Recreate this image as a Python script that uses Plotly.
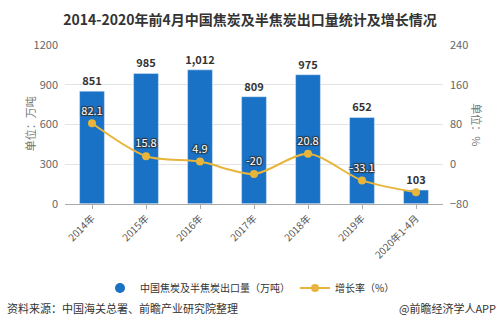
import plotly.graph_objects as go

categories = ["2014年", "2015年", "2016年", "2017年", "2018年", "2019年", "2020年1-4月"]
export_volume = [851, 985, 1012, 809, 975, 652, 103]
growth_rate = [82.1, 15.8, 4.9, -20, 20.8, -33.1, -57]
growth_labels = ["82.1", "15.8", "4.9", "-20", "20.8", "-33.1", ""]

title_text = "2014-2020年前4月中国焦炭及半焦炭出口量统计及增长情况"
bar_name = "中国焦炭及半焦炭出口量（万吨）"
line_name = "增长率（%）"
left_title = "单位：万吨"
right_title = "单位：%"
source_text = "资料来源：中国海关总署、前瞻产业研究院整理"
credit_text = "@前瞻经济学人APP"

FONT = "Noto Sans CJK SC"
BAR_COLOR = "#1a72c6"
LINE_COLOR = "#e8b53a"

fig = go.Figure()
fig.add_trace(go.Bar(
    x=categories, y=export_volume, name=bar_name, showlegend=False,
    marker=dict(color=BAR_COLOR), width=0.46,
    texttemplate="%{y:,}", textposition="outside", cliponaxis=False,
    constraintext="none",
    textfont=dict(family=FONT, size=11, color="#333333", weight="bold"),
    hoverinfo="skip",
))
fig.add_trace(go.Scatter(
    x=[None], y=[None], mode="markers", name=bar_name,
    marker=dict(symbol="circle", size=10, color=BAR_COLOR),
))
fig.add_trace(go.Scatter(
    x=categories, y=growth_rate, name=line_name, yaxis="y2",
    mode="lines+markers+text", text=growth_labels, textposition="top center",
    line=dict(color=LINE_COLOR, width=2, shape="spline", smoothing=0.8),
    marker=dict(size=8, color=LINE_COLOR),
    textfont=dict(family=FONT, size=11, color="#ffffff",
                  shadow="1px 1px 1px #333, -1px -1px 1px #333, 1px -1px 1px #333, -1px 1px 1px #333"),
    cliponaxis=False,
))

fig.update_layout(
    width=500, height=327,
    margin=dict(l=65, r=57, t=45, b=122),
    paper_bgcolor="white", plot_bgcolor="white",
    font=dict(family=FONT, size=11, color="#666666"),
    title=dict(text=title_text, x=0.5, xref="container", xanchor="center",
               y=1 - 20 / 327, yref="container", yanchor="middle",
               font=dict(family=FONT, size=14, color="#333333", weight="bold")),
    bargap=0.54,
    xaxis=dict(type="category", tickangle=-45, ticks="outside", ticklen=4,
               tickcolor="#aaaaaa", showline=True, linecolor="#aaaaaa",
               tickfont=dict(size=10, color="#555555")),
    yaxis=dict(range=[0, 1200], dtick=300, showgrid=True, gridcolor="#e3e3e3",
               zeroline=False, tickfont=dict(size=11, color="#666666"), ticklabelstandoff=6),
    yaxis2=dict(range=[-80, 240], dtick=80, overlaying="y", side="right",
                showgrid=False, zeroline=False, tickfont=dict(size=11, color="#666666"),
                ticklabelstandoff=6),
    legend=dict(orientation="h", x=0.5, xref="container", xanchor="center",
                y=1 - 288 / 327, yref="container", yanchor="middle",
                font=dict(family=FONT, size=10, color="#333333"),
                itemwidth=30, traceorder="normal"),
    showlegend=True,
)

plot_h = 327 - 45 - 122
plot_w = 500 - 65 - 57

def px_to_paper_x(px):
    return (px - 65) / plot_w

def px_to_paper_y(py):
    return (327 - 122 - py) / plot_h

fig.add_annotation(text=left_title, x=px_to_paper_x(20), y=px_to_paper_y(125),
                   xref="paper", yref="paper", textangle=-90, showarrow=False,
                   font=dict(family=FONT, size=11, color="#777777"))
fig.add_annotation(text=right_title, x=px_to_paper_x(487), y=px_to_paper_y(125),
                   xref="paper", yref="paper", textangle=90, showarrow=False,
                   font=dict(family=FONT, size=11, color="#777777"))
fig.add_annotation(text=source_text, x=px_to_paper_x(5), y=px_to_paper_y(310),
                   xref="paper", yref="paper", xanchor="left", yanchor="middle",
                   showarrow=False, font=dict(family=FONT, size=11, color="#333333"))
fig.add_annotation(text=credit_text, x=px_to_paper_x(498), y=px_to_paper_y(310),
                   xref="paper", yref="paper", xanchor="right", yanchor="middle",
                   showarrow=False, font=dict(family=FONT, size=11, color="#333333"))

fig.write_html("out.html")
